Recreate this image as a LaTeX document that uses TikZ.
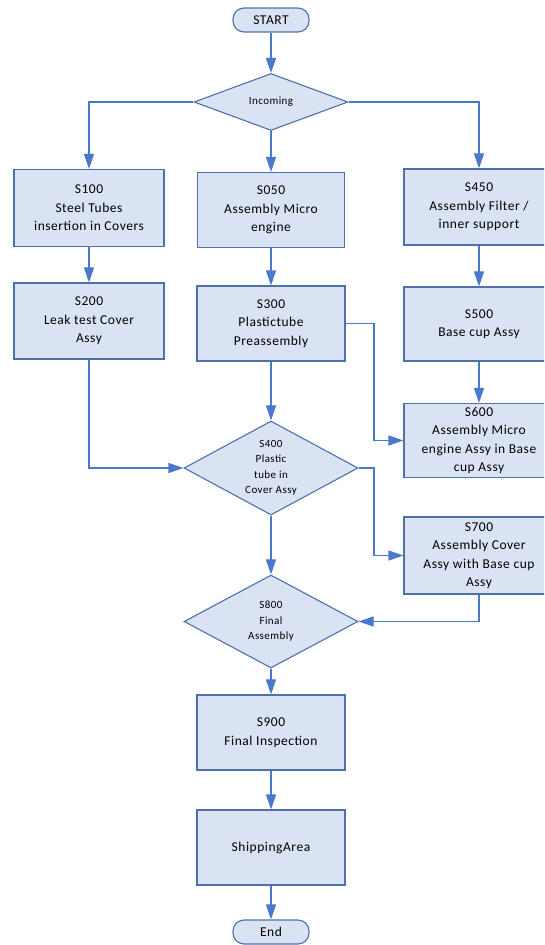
\documentclass[tikz,border=0pt]{standalone}
\usepackage{fontspec}
\setmainfont{Carlito}[LetterSpace=4]
\usepackage{xcolor}
\usetikzlibrary{shapes.geometric, arrows.meta, positioning, calc}
\definecolor{boxfill}{HTML}{DAE3F3}
\definecolor{boxline}{HTML}{4F71AA}
\definecolor{flowline}{HTML}{4A78CC}

\begin{document}
\begin{tikzpicture}[
    x=1pt, y=-1pt,
    stepbox/.style={rectangle, draw=boxline, fill=boxfill, line width=1.1pt, minimum width=150pt, minimum height=76pt, align=center, inner sep=2pt, font=\fontsize{13.5}{18.5}\selectfont},
    decision/.style={diamond, draw=boxline, fill=boxfill, line width=1.1pt, inner sep=-8pt, align=center, font=\fontsize{11}{15.5}\selectfont},
    terminal/.style={rectangle, rounded corners=11pt, draw=boxline, fill=boxfill, line width=1.1pt, minimum width=76pt, minimum height=24pt, inner sep=0pt, font=\fontsize{13.5}{15}\selectfont},
    flow/.style={-{Triangle[length=15pt, width=10pt]}, line width=1.1pt, flowline},
  ]
    \useasboundingbox (0,0) rectangle (544,945);
    \clip (0,0) rectangle (544,945);

    % terminals and decisions
    \node[terminal] (start) at (271,20) {START};
    \node[decision, minimum width=154pt, minimum height=57pt] (incoming) at (271,102) {Incoming};
    \node[decision, minimum width=174pt, minimum height=94pt] (s400) at (271,468) {S400\\Plastic\\tube in\\Cover Assy};
    \node[decision, minimum width=174pt, minimum height=93pt] (s800) at (271,621.5) {S800\\Final\\Assembly};
    \node[terminal] (endnode) at (271,932) {End};

    % left column
    \node[stepbox, minimum height=77pt] (s100) at (89,208) {S100\\Steel Tubes\\insertion in Covers};
    \node[stepbox] (s200) at (89,321) {S200\\Leak test Cover\\Assy};

    % middle column
    \node[stepbox, minimum width=147pt, minimum height=75pt] (s050) at (271,210) {S050\\Assembly Micro\\engine};
    \node[stepbox, minimum width=148pt, minimum height=75pt] (s300) at (271,323.5) {S300\\Plastictube\\Preassembly};
    \node[stepbox, minimum width=148pt, minimum height=75pt] (s900) at (271,732.5) {S900\\Final Inspection};
    \node[stepbox, minimum width=148pt, minimum height=75pt] (ship) at (271,847.5) {ShippingArea};

    % right column
    \node[stepbox] (s450) at (479,207) {S450\\Assembly Filter /\\inner support};
    \node[stepbox, minimum height=74pt] (s500) at (479,324) {S500\\Base cup Assy};
    \node[stepbox, minimum height=74pt] (s600) at (479,440.5) {S600\\Assembly Micro\\engine Assy in Base\\cup Assy};
    \node[stepbox, minimum height=77pt] (s700) at (479,555.5) {S700\\Assembly Cover\\Assy with Base cup\\Assy};

    \coordinate (jog) at (374,0);

    % connectors
    \draw[flow] (start) -- (incoming);
    \draw[flow] (incoming.west) -| (s100.north);
    \draw[flow] (incoming.east) -| (s450.north);
    \draw[flow] (incoming) -- (s050);
    \draw[flow] (s100) -- (s200);
    \draw[flow] (s050) -- (s300);
    \draw[flow] (s450) -- (s500);
    \draw[flow] (s500) -- (s600);
    \draw[flow] (s200.south) |- (s400.west);
    \draw[flow] (s300) -- (s400);
    \draw[flow] (s300.east) -- (s300.east -| jog) |- (s600.west);
    \draw[flow] (s400.east) -- (s400.east -| jog) |- (s700.west);
    \draw[flow] (s700.south) |- (s800.east);
    \draw[flow] (s400) -- (s800);
    \draw[flow] (s800) -- (s900);
    \draw[flow] (s900) -- (ship);
    \draw[flow] (ship) -- (endnode);
\end{tikzpicture}
\end{document}
